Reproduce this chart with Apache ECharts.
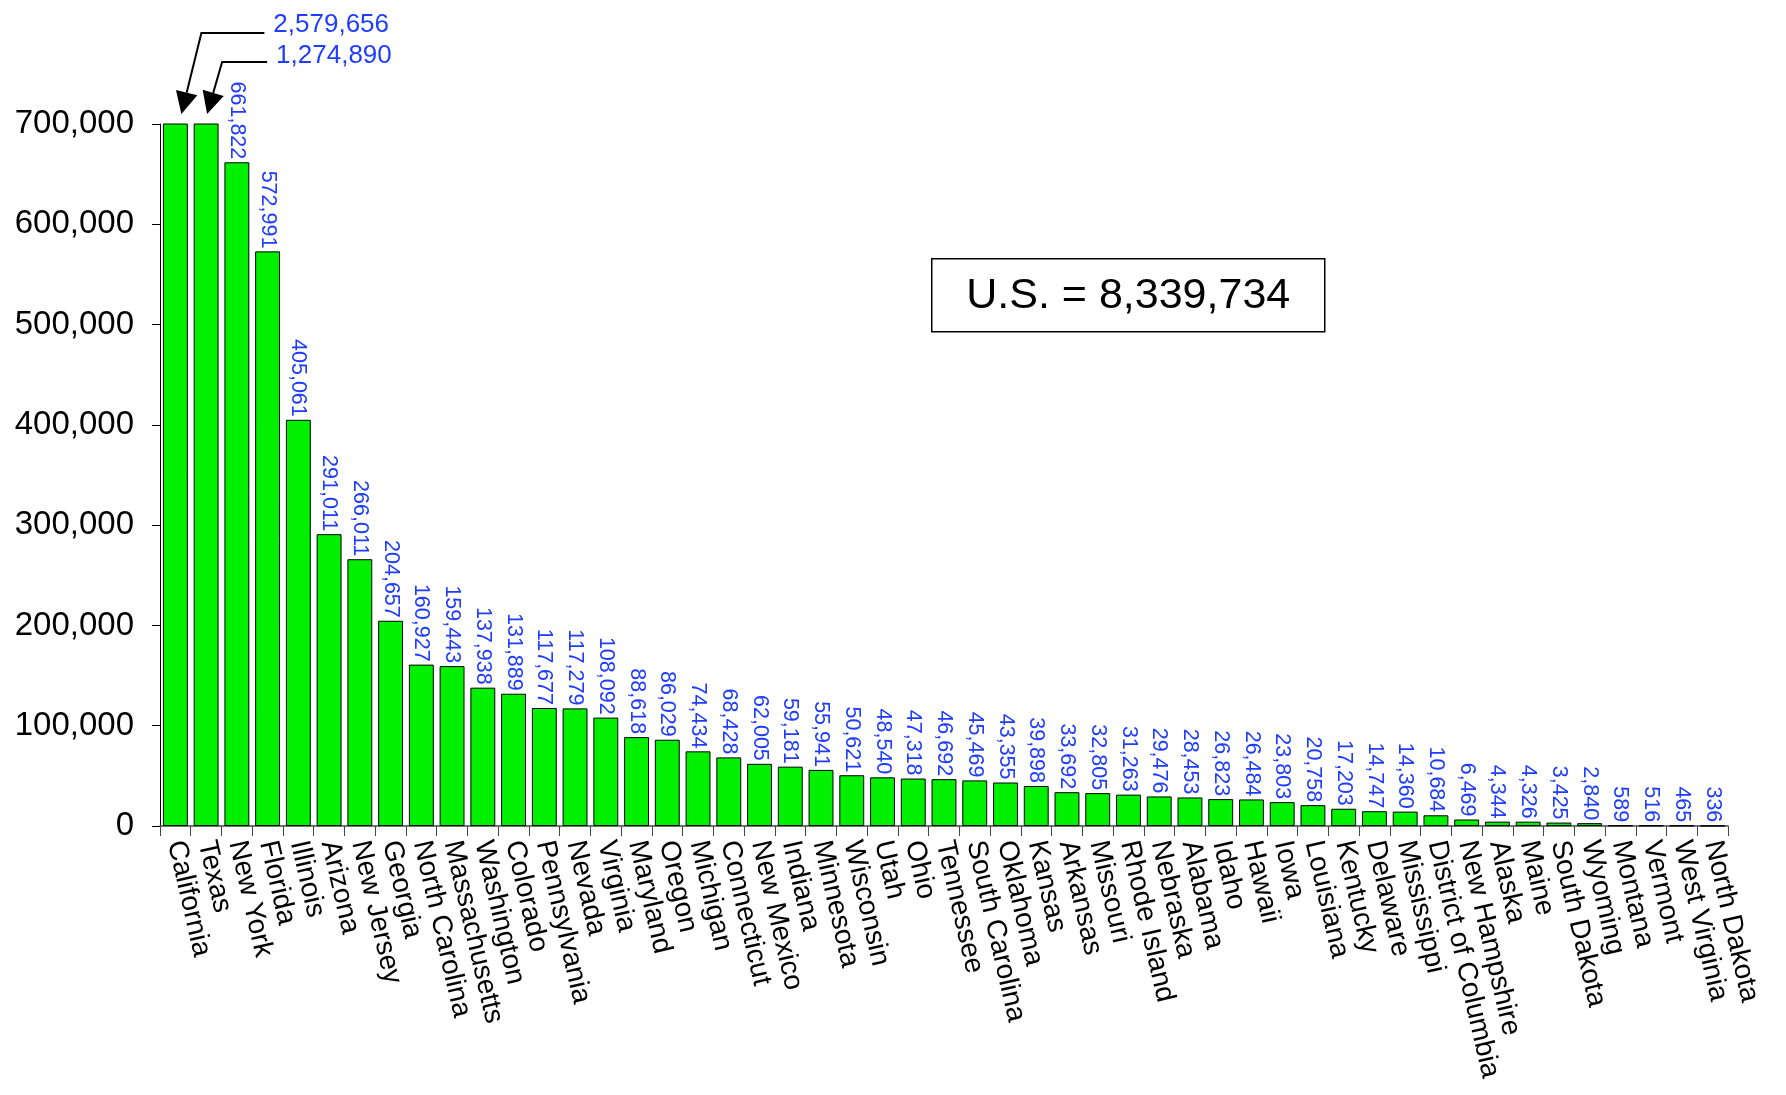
<!DOCTYPE html>
<html>
<head>
<meta charset="utf-8">
<title>Population by State</title>
<script src="https://cdn.jsdelivr.net/npm/echarts@6/dist/echarts.min.js"></script>
<style>
  html, body { margin: 0; padding: 0; background: #ffffff; }
  #chart { width: 1786px; height: 1095px; }
</style>
</head>
<body>
<div id="chart"></div>
<script>
// States ordered by value, largest first
const states = [
  'California', 'Texas', 'New York', 'Florida', 'Illinois', 'Arizona', 'New Jersey',
  'Georgia', 'North Carolina', 'Massachusetts', 'Washington', 'Colorado', 'Pennsylvania',
  'Nevada', 'Virginia', 'Maryland', 'Oregon', 'Michigan', 'Connecticut', 'New Mexico',
  'Indiana', 'Minnesota', 'Wisconsin', 'Utah', 'Ohio', 'Tennessee', 'South Carolina',
  'Oklahoma', 'Kansas', 'Arkansas', 'Missouri', 'Rhode Island', 'Nebraska', 'Alabama',
  'Idaho', 'Hawaii', 'Iowa', 'Louisiana', 'Kentucky', 'Delaware', 'Mississippi',
  'District of Columbia', 'New Hampshire', 'Alaska', 'Maine', 'South Dakota', 'Wyoming',
  'Montana', 'Vermont', 'West Virginia', 'North Dakota'
];

const values = [
  2579656, 1274890, 661822, 572991, 405061, 291011, 266011,
  204657, 160927, 159443, 137938, 131889, 117677,
  117279, 108092, 88618, 86029, 74434, 68428, 62005,
  59181, 55941, 50621, 48540, 47318, 46692, 45469,
  43355, 39898, 33692, 32805, 31263, 29476, 28453,
  26823, 26484, 23803, 20758, 17203, 14747, 14360,
  10684, 6469, 4344, 4326, 3425, 2840,
  589, 516, 465, 336
];

const yTicks = [0, 100000, 200000, 300000, 400000, 500000, 600000, 700000];
const usTotal = 8339734;

const axisMax = yTicks[yTicks.length - 1];
const fmt = v => Number(v).toLocaleString('en-US');
const FONT = '"Liberation Sans", Arial, Helvetica, sans-serif';
const BLUE = '#1f3dff';

const chart = echarts.init(document.getElementById('chart'), null, { renderer: 'canvas' });

chart.setOption({
  animation: false,
  backgroundColor: '#ffffff',
  textStyle: { fontFamily: FONT },
  grid: { left: 160, right: 58, top: 124, bottom: 269, containLabel: false },
  xAxis: {
    type: 'category',
    data: states,
    boundaryGap: true,
    axisLine: { show: true, lineStyle: { color: '#3f4f3f', width: 1.5 } },
    axisTick: { show: true, alignWithLabel: false, length: 10, lineStyle: { color: '#444', width: 1 } },
    axisLabel: {
      interval: 0,
      rotate: -77,
      margin: 15,
      color: '#000',
      fontSize: 28,
      fontFamily: FONT
    },
    splitLine: { show: false }
  },
  yAxis: {
    type: 'value',
    min: 0,
    max: axisMax,
    interval: yTicks[1] - yTicks[0],
    axisLine: { show: true, lineStyle: { color: '#000', width: 1 } },
    axisTick: { show: true, length: 8, lineStyle: { color: '#000', width: 1 } },
    axisLabel: {
      color: '#000',
      fontSize: 33,
      fontFamily: FONT,
      margin: 26,
      formatter: v => fmt(v)
    },
    splitLine: { show: false }
  },
  series: [{
    type: 'bar',
    data: values,
    clip: true,
    barCategoryGap: '19%',
    itemStyle: { color: '#00f000', borderColor: '#000', borderWidth: 1 },
    label: {
      show: true,
      position: 'top',
      distance: 3,
      rotate: -90,
      align: 'right',
      verticalAlign: 'middle',
      color: BLUE,
      fontSize: 21.5,
      fontFamily: FONT,
      formatter: p => (p.value > axisMax ? '' : fmt(p.value))
    }
  }]
});

// Callouts for bars that run past the top of the value axis
function arrowHead(tip, from, len, half) {
  const dx = tip[0] - from[0], dy = tip[1] - from[1];
  const d = Math.hypot(dx, dy);
  const ux = dx / d, uy = dy / d;
  const bx = tip[0] - ux * len, by = tip[1] - uy * len;
  return [tip, [bx - uy * half, by + ux * half], [bx + uy * half, by - ux * half]];
}

const callouts = [
  { index: 0, tipDx: 6, rise: 81, run: 20, reach: 63, textDy: -8 },
  { index: 1, tipDx: 1, rise: 52, run: 15, reach: 45, textDy: -6 }
];

const graphics = [];
callouts.forEach(c => {
  if (values[c.index] <= axisMax) return;
  const top = chart.convertToPixel({ xAxisIndex: 0, yAxisIndex: 0 }, [c.index, axisMax]);
  const tip = [top[0] + c.tipDx, top[1] - 10];
  const elbow = [tip[0] + c.run, tip[1] - c.rise];
  const end = [elbow[0] + c.reach, elbow[1]];
  const head = arrowHead(tip, elbow, 22, 11);
  const lineEnd = [(head[1][0] + head[2][0]) / 2, (head[1][1] + head[2][1]) / 2];
  graphics.push({
    type: 'polyline',
    shape: { points: [end, elbow, lineEnd] },
    style: { stroke: '#000', lineWidth: 2, fill: null },
    z: 10
  });
  graphics.push({
    type: 'polygon',
    shape: { points: head },
    style: { fill: '#000' },
    z: 10
  });
  graphics.push({
    type: 'text',
    x: end[0] + 9,
    y: end[1] + c.textDy,
    style: {
      text: fmt(values[c.index]),
      fill: BLUE,
      font: '26px ' + FONT,
      textAlign: 'left',
      textVerticalAlign: 'middle'
    },
    z: 10
  });
});

// Total box
graphics.push({
  type: 'group',
  left: 931,
  top: 258,
  children: [
    {
      type: 'rect',
      shape: { x: 0, y: 0, width: 393, height: 73 },
      style: { fill: '#fff', stroke: '#000', lineWidth: 1.5 }
    },
    {
      type: 'text',
      x: 196.5,
      y: 37,
      style: {
        text: 'U.S. = ' + fmt(usTotal),
        fill: '#000',
        font: '43px ' + FONT,
        textAlign: 'center',
        textVerticalAlign: 'middle'
      }
    }
  ]
});

chart.setOption({ graphic: graphics });
</script>
</body>
</html>
